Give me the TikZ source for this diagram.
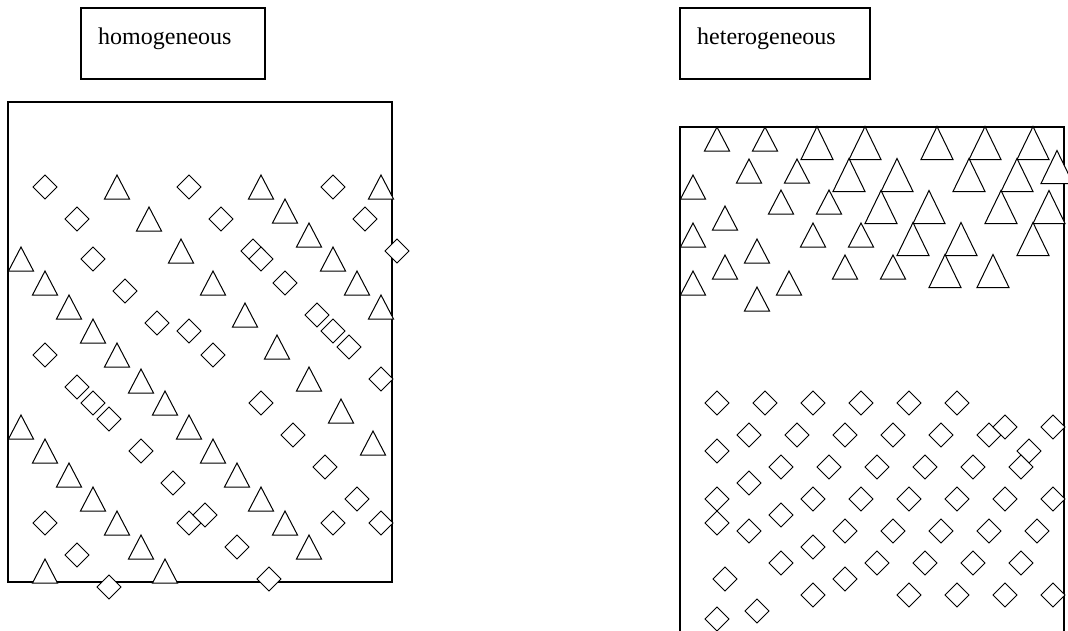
\documentclass[tikz,border=0pt]{standalone}
\usepackage{fontspec}
\setmainfont{Liberation Serif}
\begin{document}
\begin{tikzpicture}[x=1pt,y=-1pt,
  frame/.style={draw=black,line width=1.2pt},
  shp/.style={draw=black,fill=white,line width=1pt,line join=miter},
  lbl/.style={anchor=base west,inner sep=0pt,font=\fontsize{24}{28}\selectfont}]
\useasboundingbox (0,0) rectangle (1068,630);
% label boxes
\draw[frame] (81,8) rectangle (265,79);
\node[lbl] (homo) at (98,44) {homogeneous};
\draw[frame] (680,8) rectangle (870,79);
\node[lbl] (hete) at (697,44) {heterogeneous};
% containers
\draw[frame] (8,102) rectangle (392,582);
\draw[frame] (680,640) -- (680,127) -- (1064,127) -- (1064,640);
% left box: small triangles
\foreach \x/\y in {117/187,149/219,181/251,21/259,45/283,69/307,93/331,117/355,213/283,
 261/187,285/211,309/235,333/259,357/283,381/187,381/307,245/315,277/347,
 141/381,165/403,189/427,21/427,45/451,69/475,93/499,117/523,141/547,45/571,165/571,213/451,
 309/379,341/411,373/443,237/475,261/499,285/523,309/547}
  \draw[shp] (\x-12.5,\y+12) -- (\x+12.5,\y+12) -- (\x,\y-12) -- cycle;
% left box: diamonds
\foreach \x/\y in {45/187,77/219,93/259,125/291,157/323,189/331,45/355,189/187,221/219,
 333/187,365/219,253/251,261/259,397/251,285/283,317/315,333/331,349/347,213/355,
 77/387,93/403,109/419,141/451,173/483,189/523,205/515,45/523,77/555,109/587,
 381/379,261/403,293/435,325/467,357/499,333/523,381/523,237/547,269/579}
  \draw[shp] (\x-12,\y) -- (\x,\y-12) -- (\x+12,\y) -- (\x,\y+12) -- cycle;
% right box: small triangles
\foreach \x/\y in {717/139,765/139,749/171,797/171,693/187,781/202,829/202,725/218,693/235,
 813/235,861/235,757/251,725/267,845/267,693/283,789/283,757/299,893/267}
  \draw[shp] (\x-12.5,\y+12) -- (\x+12.5,\y+12) -- (\x,\y-12) -- cycle;
% right box: big triangles
\foreach \x/\y in {817/143,865/143,937/143,985/143,1033/143,849/175,897/175,969/175,1017/175,
 1057/167,881/207,929/207,1001/207,1049/207,913/239,961/239,1033/239,945/271,993/271}
  \draw[shp] (\x-16,\y+16.5) -- (\x+16,\y+16.5) -- (\x,\y-16.5) -- cycle;
% right box: diamonds
\foreach \x/\y in {717/403,765/403,813/403,861/403,909/403,957/403,
 749/435,797/435,845/435,893/435,941/435,989/435,1005/427,1053/427,
 717/451,1029/451,781/467,829/467,877/467,925/467,973/467,1021/467,749/483,
 717/499,813/499,861/499,909/499,957/499,1005/499,1053/499,717/523,781/515,
 749/531,845/531,893/531,941/531,989/531,1037/531,813/547,
 781/563,877/563,925/563,973/563,1021/563,725/579,845/579,
 813/595,909/595,957/595,1005/595,1053/595,757/611,717/619}
  \draw[shp] (\x-12,\y) -- (\x,\y-12) -- (\x+12,\y) -- (\x,\y+12) -- cycle;
\end{tikzpicture}
\end{document}
